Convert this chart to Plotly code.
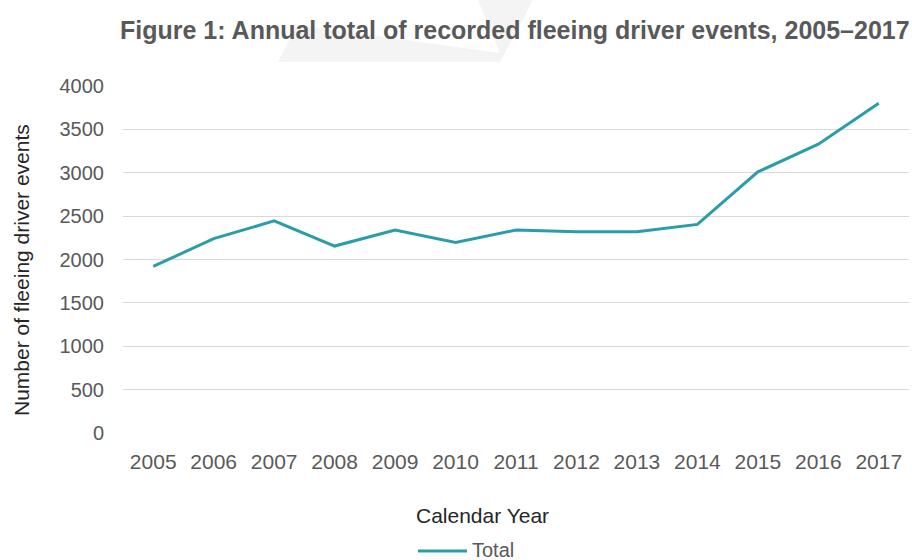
import plotly.graph_objects as go

# Annual totals of recorded fleeing driver events
years = ["2005", "2006", "2007", "2008", "2009", "2010", "2011",
         "2012", "2013", "2014", "2015", "2016", "2017"]
totals = [1920, 2240, 2445, 2155, 2340, 2195, 2340, 2320, 2320, 2405, 3010, 3330, 3800]
y_ticks = [0, 500, 1000, 1500, 2000, 2500, 3000, 3500, 4000]

W, H = 912, 560
ML, MR, MT, MB = 123, 3, 86, 127
PW, PH = W - ML - MR, H - MT - MB

LINE_COLOR = "#2a9ea8"
GREY_TEXT = "#595959"
FONT = "Liberation Sans, Arial, sans-serif"


def px(x):
    """Pixel x to paper coordinate."""
    return (x - ML) / PW


def py(y):
    """Pixel y to paper coordinate."""
    return (H - MB - y) / PH


fig = go.Figure()
fig.add_trace(go.Scatter(
    x=years, y=totals, mode="lines", name="Total",
    line=dict(color=LINE_COLOR, width=3), showlegend=False,
))

# faint background logo behind the heading
logo = [(278, 62), (297, 25), (500, 53), (478, 0), (533, 0), (500, 62)]
path = "M " + " L ".join(f"{px(a):.4f},{py(b):.4f}" for a, b in logo) + " Z"

shapes = [
    dict(type="path", path=path, xref="paper", yref="paper",
         fillcolor="#f4f4f4", line=dict(width=0), layer="below"),
    # legend sample line
    dict(type="line", xref="paper", yref="paper",
         x0=px(418), x1=px(467), y0=py(551), y1=py(551),
         line=dict(color=LINE_COLOR, width=3)),
]

annotations = [
    dict(text="<b>Figure 1: Annual total of recorded fleeing driver events, 2005–2017</b>",
         xref="paper", yref="paper", x=px(515), y=py(30),
         xanchor="center", yanchor="middle", showarrow=False,
         font=dict(family=FONT, size=25, color=GREY_TEXT)),
    dict(text="Number of fleeing driver events", xref="paper", yref="paper",
         x=px(21), y=py(270), textangle=-90, xanchor="center", yanchor="middle",
         showarrow=False, font=dict(family=FONT, size=21, color="#262626")),
    dict(text="Calendar Year", xref="paper", yref="paper",
         x=px(482), y=py(515), xanchor="center", yanchor="middle",
         showarrow=False, font=dict(family=FONT, size=21, color="#262626")),
    dict(text="Total", xref="paper", yref="paper",
         x=px(470), y=py(550), xanchor="left", yanchor="middle",
         showarrow=False, font=dict(family=FONT, size=20, color=GREY_TEXT)),
]

fig.update_layout(
    width=W, height=H,
    margin=dict(l=ML, r=MR, t=MT, b=MB),
    paper_bgcolor="white", plot_bgcolor="white",
    font=dict(family=FONT, color=GREY_TEXT),
    shapes=shapes, annotations=annotations,
    showlegend=False,
)
fig.update_xaxes(
    type="category", range=[-0.5, len(years) - 0.5],
    showgrid=False, zeroline=False, showline=False,
    tickfont=dict(size=21, color=GREY_TEXT), ticks="", ticklabelstandoff=14,
)
fig.update_yaxes(
    range=[0, 4000], tickvals=y_ticks, showgrid=True, gridcolor="#d9d9d9",
    gridwidth=1, zeroline=False, showline=False,
    tickfont=dict(size=20, color=GREY_TEXT), ticks="", ticklabelstandoff=18,
)

fig.write_html("out.html")
